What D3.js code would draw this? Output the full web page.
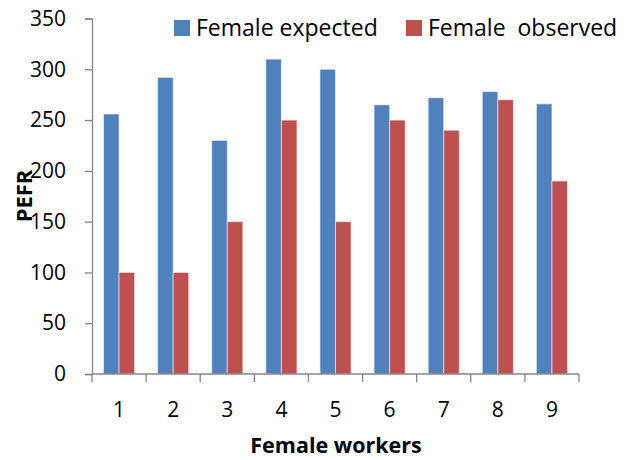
<!DOCTYPE html>
<html>
<head>
<meta charset="utf-8">
<script src="https://cdn.jsdelivr.net/npm/d3@7"></script>
<style>
  html, body { margin: 0; padding: 0; background: #fff; }
  svg { display: block; font-family: "Open Sans", "Liberation Sans", sans-serif; }
</style>
</head>
<body>
<svg id="chart" width="634" height="460"></svg>
<script>
// PEFR per female worker: expected vs observed
const workers = ["1", "2", "3", "4", "5", "6", "7", "8", "9"];
const expected = [256, 292, 230, 310, 300, 265, 272, 278, 266];
const observed = [100, 100, 150, 250, 150, 250, 240, 270, 190];
const seriesNames = ["Female expected", "Female  observed"];
const seriesColors = ["#4F81BD", "#C0504D"];
const yTicks = [0, 50, 100, 150, 200, 250, 300, 350];

const svg = d3.select("#chart");
const margin = { left: 92, right: 55, top: 18.5, bottom: 86 };
const W = 634, H = 460;

const x = d3.scaleBand()
  .domain(workers)
  .range([margin.left, W - margin.right])
  .paddingInner(0.425)
  .paddingOuter(0.2125);
const xOuter = d3.scaleBand().domain(workers).range([margin.left, W - margin.right]);
const y = d3.scaleLinear().domain([0, 350]).range([H - margin.bottom, margin.top]);
const sub = d3.scaleBand().domain([0, 1]).range([0, x.bandwidth()]);

const rows = workers.map((w, i) => ({ w, vals: [expected[i], observed[i]] }));

// bars
const g = svg.append("g");
rows.forEach(r => {
  r.vals.forEach((v, k) => {
    g.append("rect")
      .attr("x", x(r.w) + sub(k))
      .attr("y", y(v))
      .attr("width", sub.bandwidth())
      .attr("height", y(0) - y(v))
      .attr("fill", seriesColors[k])
      .attr("stroke", "rgba(255,255,255,0.55)")
      .attr("stroke-width", 1);
  });
});

// y axis
const yAxis = d3.axisLeft(y).tickValues(yTicks).tickSize(7).tickPadding(19);
const ya = svg.append("g").attr("transform", `translate(${margin.left},0)`).call(yAxis);
ya.select(".domain").attr("stroke", "#868686").attr("stroke-width", 1.3);
ya.selectAll(".tick line").attr("stroke", "#868686").attr("stroke-width", 1.3);
ya.selectAll(".tick text").attr("font-size", 21).attr("fill", "#000")
  .attr("font-family", "'Open Sans', sans-serif");

// x axis: ticks at category boundaries
const xa = svg.append("g").attr("transform", `translate(0,${y(0)})`);
xa.append("line")
  .attr("x1", margin.left).attr("x2", W - margin.right)
  .attr("stroke", "#868686").attr("stroke-width", 1.3);
const bounds = workers.map(w => xOuter(w)).concat([W - margin.right]);
xa.selectAll("line.tk").data(bounds).join("line").attr("class", "tk")
  .attr("x1", d => d).attr("x2", d => d).attr("y1", 0).attr("y2", 8)
  .attr("stroke", "#868686").attr("stroke-width", 1.3);
xa.selectAll("text").data(workers).join("text")
  .attr("x", d => xOuter(d) + xOuter.bandwidth() / 2)
  .attr("y", 43)
  .attr("text-anchor", "middle")
  .attr("font-size", 21)
  .text(d => d);

// axis titles
svg.append("text")
  .attr("x", 336).attr("y", 453)
  .attr("text-anchor", "middle")
  .attr("font-size", 21.5).attr("font-weight", "bold")
  .text("Female workers");
svg.append("text")
  .attr("transform", "translate(32,196) rotate(-90)")
  .attr("text-anchor", "middle")
  .attr("font-size", 22).attr("font-weight", "bold")
  .text("PEFR");

// legend
const legendX = [174, 406];
seriesNames.forEach((name, k) => {
  const lg = svg.append("g").attr("transform", `translate(${legendX[k]},20)`);
  lg.append("rect").attr("width", 16).attr("height", 16).attr("fill", seriesColors[k]);
  lg.append("text").attr("x", 22).attr("y", 16).attr("font-size", 23)
    .attr("xml:space", "preserve").style("white-space", "pre").text(name);
});
</script>
</body>
</html>
